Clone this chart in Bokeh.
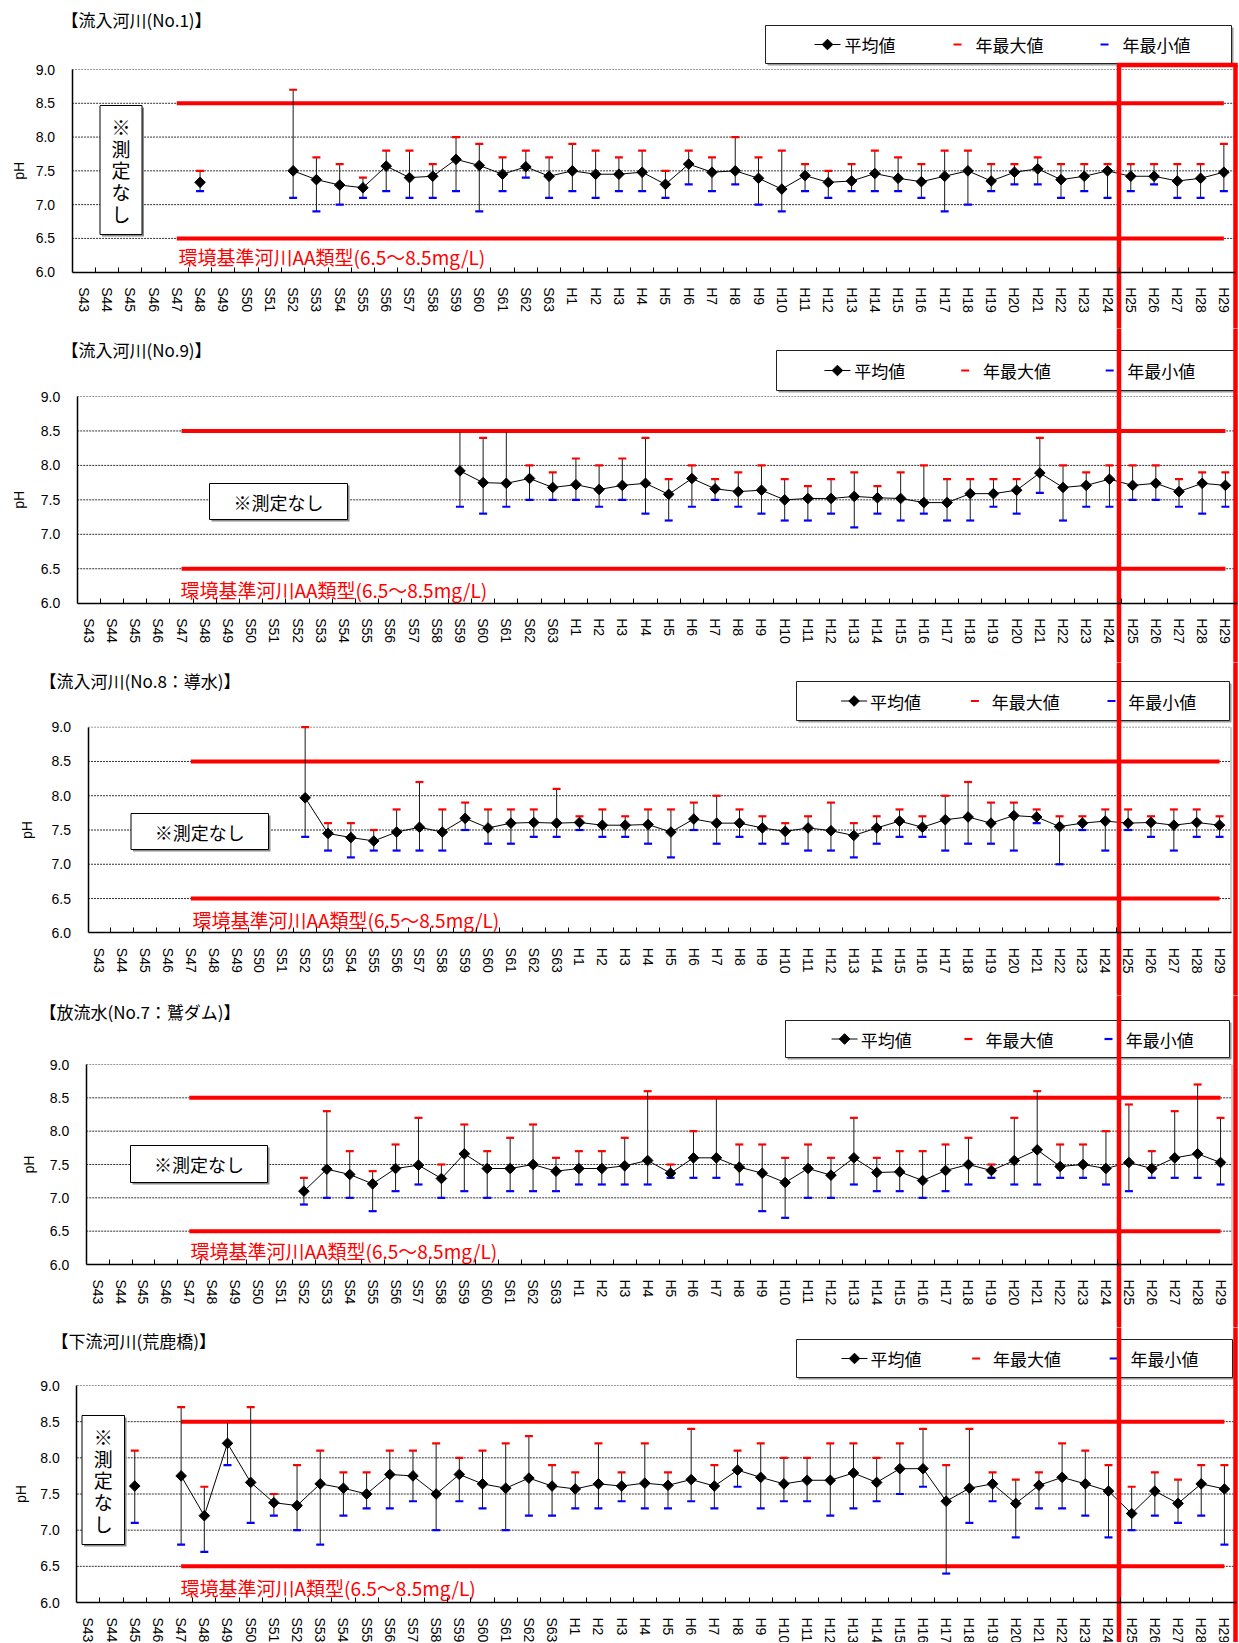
import math
from bokeh.plotting import figure
from bokeh.layouts import column
from bokeh.models import Range1d, FixedTicker, LinearAxis, PrintfTickFormatter
from bokeh.core.properties import value
from bokeh.embed import file_html
from bokeh.resources import INLINE

N = float("nan")

# ---------------- categories / tick labels ----------------
CATS = ["S43", "S44", "S45", "S46", "S47", "S48", "S49", "S50", "S51", "S52",
        "S53", "S54", "S55", "S56", "S57", "S58", "S59", "S60", "S61", "S62", "S63",
        "H1", "H2", "H3", "H4", "H5", "H6", "H7", "H8", "H9", "H10",
        "H11", "H12", "H13", "H14", "H15", "H16", "H17", "H18", "H19", "H20",
        "H21", "H22", "H23", "H24", "H25", "H26", "H27", "H28", "H29"]
Y_TICKS = [6.0, 6.5, 7.0, 7.5, 8.0, 8.5, 9.0]
STD_LOW = 6.5
STD_HIGH = 8.5
STD_START = "S47"
LEGEND_LABELS = ["平均値", "年最大値", "年最小値"]

# ---------------- 流入河川(No.1) ----------------
NO1_MEAN = [N, N, N, N, N, 7.33, N, N, N, 7.50, 7.37, 7.29, 7.25, 7.57, 7.40, 7.42, 7.67, 7.58, 7.45, 7.56, 7.42,
            7.50, 7.45, 7.45, 7.48, 7.30, 7.60, 7.48, 7.50, 7.39, 7.23,
            7.43, 7.33, 7.35, 7.46, 7.39, 7.34, 7.42, 7.50, 7.35, 7.48,
            7.53, 7.37, 7.42, 7.50, 7.42, 7.42, 7.35, 7.39, 7.48]
NO1_MAX = [N, N, N, N, N, 7.5, N, N, N, 8.7, 7.7, 7.6, 7.4, 7.8, 7.8, 7.6, 8.0, 7.9, 7.7, 7.8, 7.7,
           7.9, 7.8, 7.7, 7.8, 7.5, 7.8, 7.7, 8.0, 7.7, 7.8,
           7.6, 7.5, 7.6, 7.8, 7.7, 7.6, 7.8, 7.8, 7.6, 7.6,
           7.7, 7.6, 7.6, 7.6, 7.6, 7.6, 7.6, 7.6, 7.9]
NO1_MIN = [N, N, N, N, N, 7.2, N, N, N, 7.1, 6.9, 7.0, 7.1, 7.2, 7.1, 7.1, 7.2, 6.9, 7.2, 7.4, 7.1,
           7.2, 7.1, 7.2, 7.2, 7.1, 7.3, 7.2, 7.3, 7.0, 6.9,
           7.2, 7.1, 7.2, 7.2, 7.2, 7.1, 6.9, 7.0, 7.2, 7.3,
           7.3, 7.1, 7.2, 7.1, 7.2, 7.3, 7.1, 7.1, 7.2]

# ---------------- 流入河川(No.9) ----------------
NO9_MEAN = [N, N, N, N, N, N, N, N, N, N, N, N, N, N, N, N, 7.92, 7.75, 7.74, 7.81, 7.68,
            7.72, 7.65, 7.71, 7.74, 7.58, 7.81, 7.66, 7.62, 7.64, 7.50,
            7.52, 7.52, 7.55, 7.53, 7.52, 7.46, 7.46, 7.59, 7.59, 7.64,
            7.89, 7.68, 7.71, 7.80, 7.71, 7.74, 7.62, 7.74, 7.71]
NO9_MAX = [N, N, N, N, N, N, N, N, N, N, N, N, N, N, N, N, 8.5, 8.4, 8.5, 8.0, 7.9,
           8.1, 8.0, 8.1, 8.4, 7.8, 8.0, 7.8, 7.9, 8.0, 7.8,
           7.7, 7.8, 7.9, 7.7, 7.9, 8.0, 7.8, 7.8, 7.8, 7.8,
           8.4, 8.0, 7.9, 8.0, 8.0, 8.0, 7.8, 7.9, 7.9]
NO9_MIN = [N, N, N, N, N, N, N, N, N, N, N, N, N, N, N, N, 7.4, 7.3, 7.4, 7.5, 7.5,
           7.5, 7.4, 7.5, 7.3, 7.2, 7.4, 7.5, 7.4, 7.3, 7.2,
           7.2, 7.3, 7.1, 7.3, 7.2, 7.3, 7.2, 7.2, 7.4, 7.3,
           7.6, 7.2, 7.4, 7.4, 7.5, 7.5, 7.4, 7.3, 7.4]

# ---------------- 流入河川(No.8:導水) ----------------
NO8_MEAN = [N, N, N, N, N, N, N, N, N, 7.97, 7.45, 7.39, 7.34, 7.47, 7.54, 7.47, 7.67, 7.53, 7.60, 7.61, 7.60,
            7.61, 7.57, 7.57, 7.58, 7.47, 7.66, 7.60, 7.60, 7.53, 7.48,
            7.53, 7.49, 7.42, 7.53, 7.63, 7.54, 7.65, 7.69, 7.60, 7.71,
            7.69, 7.55, 7.60, 7.63, 7.60, 7.61, 7.57, 7.61, 7.57]
NO8_MAX = [N, N, N, N, N, N, N, N, N, 9.0, 7.6, 7.6, 7.5, 7.8, 8.2, 7.8, 7.9, 7.8, 7.8, 7.8, 8.1,
           7.7, 7.8, 7.7, 7.8, 7.8, 7.9, 8.0, 7.8, 7.7, 7.6,
           7.7, 7.9, 7.6, 7.7, 7.8, 7.7, 8.0, 8.2, 7.9, 7.9,
           7.8, 7.7, 7.7, 7.8, 7.8, 7.7, 7.8, 7.8, 7.7]
NO8_MIN = [N, N, N, N, N, N, N, N, N, 7.4, 7.2, 7.1, 7.2, 7.2, 7.2, 7.2, 7.5, 7.3, 7.3, 7.4, 7.4,
           7.5, 7.4, 7.4, 7.3, 7.1, 7.5, 7.3, 7.4, 7.3, 7.3,
           7.2, 7.2, 7.1, 7.3, 7.4, 7.4, 7.2, 7.3, 7.3, 7.2,
           7.6, 7.0, 7.5, 7.2, 7.5, 7.4, 7.2, 7.4, 7.4]

# ---------------- 放流水(No.7:鷲ダム) ----------------
NO7_MEAN = [N, N, N, N, N, N, N, N, N, 7.10, 7.43, 7.35, 7.21, 7.44, 7.49, 7.29, 7.66, 7.44, 7.44, 7.50, 7.40,
            7.44, 7.44, 7.48, 7.56, 7.37, 7.60, 7.60, 7.46, 7.37, 7.23,
            7.44, 7.34, 7.60, 7.38, 7.39, 7.26, 7.41, 7.50, 7.41, 7.56,
            7.72, 7.47, 7.50, 7.44, 7.53, 7.44, 7.60, 7.66, 7.53]
NO7_MAX = [N, N, N, N, N, N, N, N, N, 7.3, 8.3, 7.7, 7.4, 7.8, 8.2, 7.5, 8.1, 7.7, 7.9, 8.1, 7.6,
           7.7, 7.7, 7.9, 8.6, 7.5, 8.0, 8.5, 7.8, 7.8, 7.6,
           7.8, 7.6, 8.2, 7.6, 7.7, 7.7, 7.8, 7.9, 7.5, 8.2,
           8.6, 7.8, 7.8, 8.0, 8.4, 7.7, 8.3, 8.7, 8.2]
NO7_MIN = [N, N, N, N, N, N, N, N, N, 6.9, 7.0, 7.0, 6.8, 7.1, 7.2, 7.0, 7.1, 7.0, 7.1, 7.1, 7.1,
           7.2, 7.2, 7.2, 7.2, 7.3, 7.3, 7.3, 7.2, 6.8, 6.7,
           7.0, 7.0, 7.2, 7.1, 7.1, 7.0, 7.1, 7.2, 7.3, 7.2,
           7.2, 7.3, 7.3, 7.2, 7.1, 7.3, 7.3, 7.3, 7.2]

# ---------------- 下流河川(荒鹿橋) ----------------
ARA_MEAN = [N, N, 7.61, N, 7.75, 7.20, 8.20, 7.66, 7.38, 7.34, 7.64, 7.58, 7.50, 7.77, 7.75, 7.50, 7.77, 7.64, 7.58, 7.72, 7.61,
            7.57, 7.64, 7.61, 7.65, 7.62, 7.70, 7.61, 7.83, 7.73, 7.64,
            7.69, 7.69, 7.79, 7.66, 7.85, 7.85, 7.40, 7.58, 7.64, 7.37,
            7.62, 7.73, 7.64, 7.54, 7.23, 7.54, 7.37, 7.64, 7.57]
ARA_MAX = [N, N, 8.1, N, 8.7, 7.6, 8.5, 8.7, 7.5, 7.9, 8.1, 7.8, 7.8, 8.1, 8.1, 8.2, 8.0, 8.1, 8.2, 8.3, 7.9,
           7.8, 8.2, 7.8, 8.2, 7.8, 8.4, 7.9, 8.1, 8.2, 8.0,
           8.0, 8.2, 8.2, 8.0, 8.2, 8.4, 7.9, 8.4, 7.8, 7.7,
           7.8, 8.2, 8.1, 7.9, 7.6, 7.8, 7.7, 7.9, 7.9]
ARA_MIN = [N, N, 7.1, N, 6.8, 6.7, 7.9, 7.1, 7.2, 7.0, 6.8, 7.2, 7.3, 7.3, 7.4, 7.0, 7.4, 7.3, 7.0, 7.2, 7.2,
           7.3, 7.3, 7.4, 7.3, 7.3, 7.4, 7.3, 7.6, 7.3, 7.4,
           7.4, 7.2, 7.3, 7.4, 7.5, 7.6, 6.4, 7.1, 7.4, 6.9,
           7.3, 7.3, 7.2, 6.9, 7.0, 7.2, 7.1, 7.2, 6.8]

# ---------------- layout (screen pixels) ----------------
W = 1238
OX = 0
JP = "Noto Sans CJK JP"
NUM = "Liberation Sans"
RED = "#FF0000"
BLUE = "#0000FF"
RECT_X0, RECT_X1, RECT_TOP = 1118.5, 1235.0, 64.5

PANELS = [
    dict(title="【流入河川(No.1)】", std="環境基準河川AA類型(6.5～8.5mg/L)",
         mean=NO1_MEAN, vmax=NO1_MAX, vmin=NO1_MIN,
         top=0, bot=328, axis=71.6, right=1235.0, y9=69.0, y6=271.7,
         tx=61, ty=19, ph=18.5, stdx=178, stdy=255.5,
         leg=(765, 25, 1231, 63), box=(99.5, 105, 141.5, 234), vert=True),
    dict(title="【流入河川(No.9)】", std="環境基準河川AA類型(6.5～8.5mg/L)",
         mean=NO9_MEAN, vmax=NO9_MAX, vmin=NO9_MIN,
         top=328, bot=662, axis=76.7, right=1236.5, y9=396.0, y6=602.7,
         tx=61, ty=349, ph=18.5, stdx=180, stdy=588.5,
         leg=(776, 350, 1234, 390), box=(209, 483, 347, 519), vert=False),
    dict(title="【流入河川(No.8：導水)】", std="環境基準河川AA類型(6.5～8.5mg/L)",
         mean=NO8_MEAN, vmax=NO8_MAX, vmin=NO8_MIN,
         top=662, bot=995, axis=87.5, right=1230.5, y9=726.7, y6=932.3,
         tx=39, ty=680, ph=26.5, stdx=192, stdy=918.5,
         leg=(796, 681, 1229, 720), box=(130.5, 813, 268, 849), vert=False),
    dict(title="【放流水(No.7：鷲ダム)】", std="環境基準河川AA類型(6.5～8.5mg/L)",
         mean=NO7_MEAN, vmax=NO7_MAX, vmin=NO7_MIN,
         top=995, bot=1327, axis=85.7, right=1231.5, y9=1064.0, y6=1264.0,
         tx=39, ty=1010.5, ph=28.5, stdx=190, stdy=1250,
         leg=(785, 1020, 1229, 1057), box=(130, 1145, 267, 1182), vert=False),
    dict(title="【下流河川(荒鹿橋)】", std="環境基準河川A類型(6.5～8.5mg/L)",
         mean=ARA_MEAN, vmax=ARA_MAX, vmin=ARA_MIN,
         top=1327, bot=1642, axis=76.3, right=1235.5, y9=1385.0, y6=1602.0,
         tx=51, ty=1340, ph=20.5, stdx=180, stdy=1586.5,
         leg=(796, 1339, 1232, 1377), box=(81.5, 1415, 124, 1544), vert=True),
]


def make_panel(cfg):
    axis, right = cfg["axis"], cfg["right"]
    sp = (right - axis) / len(CATS)
    c0 = axis + sp / 2.0
    y9, y6 = cfg["y9"], cfg["y6"]
    ppu = (y6 - y9) / 3.0

    def X(px):
        return (px - c0) / sp

    def Y(py):
        return 9.0 - (py - y9) / ppu

    top, bot = cfg["top"], cfg["bot"]
    p = figure(width=W, height=bot - top,
               x_range=Range1d(X(OX), X(OX + W)),
               y_range=Range1d(Y(bot), Y(top)),
               output_backend="svg", toolbar_location=None,
               x_axis_type=None, y_axis_type=None, title=None, min_border=0)
    p.outline_line_color = None
    p.background_fill_color = "white"
    p.border_fill_color = "white"

    xs = list(range(len(CATS)))
    xl, xr = -0.5, len(CATS) - 0.5

    # grid lines (dotted)
    inner = [t for t in Y_TICKS if 6.0 < t < 9.0]
    p.segment(x0=[xl] * len(inner), x1=[xr] * len(inner), y0=inner, y1=inner,
              line_color="#333333", line_width=1, line_dash="2 1")
    p.segment(x0=[xl], x1=[xr], y0=[9.0], y1=[9.0], line_color="#999999",
              line_width=1, line_dash="2 1")
    p.segment(x0=[xr], x1=[xr], y0=[6.0], y1=[9.0], line_color="#999999", line_width=1)

    # axes placed at fixed data locations
    xaxis = LinearAxis(fixed_location=6.0,
                       ticker=FixedTicker(ticks=xs, minor_ticks=[k + 0.5 for k in xs[:-1]]),
                       bounds=(xl, xr))
    xaxis.major_label_overrides = {i: c for i, c in enumerate(CATS)}
    xaxis.major_label_orientation = "vertical"
    xaxis.major_tick_line_color = None
    xaxis.minor_tick_in = 5
    xaxis.minor_tick_out = 0
    xaxis.minor_tick_line_color = "black"
    xaxis.axis_line_color = "black"
    xaxis.axis_line_width = 1.5
    xaxis.major_label_standoff = 9
    xaxis.major_label_text_font = NUM
    xaxis.major_label_text_font_size = "14px"
    xaxis.major_label_text_color = "black"
    p.add_layout(xaxis, "below")

    yaxis = LinearAxis(fixed_location=xl, ticker=FixedTicker(ticks=Y_TICKS),
                       formatter=PrintfTickFormatter(format="%.1f"), bounds=(6.0, 9.0))
    yaxis.major_tick_line_color = None
    yaxis.minor_tick_line_color = None
    yaxis.major_tick_out = 0
    yaxis.axis_line_color = "black"
    yaxis.axis_line_width = 1.5
    yaxis.major_label_standoff = 17
    yaxis.major_label_text_font = NUM
    yaxis.major_label_text_font_size = "14px"
    yaxis.major_label_text_color = "black"
    p.add_layout(yaxis, "left")

    # environmental standard lines
    i0 = CATS.index(STD_START)
    p.segment(x0=[i0, i0], x1=[xs[-1], xs[-1]], y0=[STD_LOW, STD_HIGH], y1=[STD_LOW, STD_HIGH],
              line_color=RED, line_width=4)
    p.text(x=[X(cfg["stdx"])], y=[Y(cfg["stdy"])], text=[cfg["std"]], text_color=RED,
           text_font=value(JP), text_font_size=value("19px"),
           text_align="left", text_baseline="middle")

    # range bars
    mean, vmax, vmin = cfg["mean"], cfg["vmax"], cfg["vmin"]
    bx = [x for x, a, b in zip(xs, vmin, vmax) if a == a and b == b]
    b0 = [a for a, b in zip(vmin, vmax) if a == a and b == b]
    b1 = [b for a, b in zip(vmin, vmax) if a == a and b == b]
    p.segment(x0=bx, x1=bx, y0=b0, y1=b1, line_color="#1a1a1a", line_width=1)
    p.scatter(xs, vmax, marker="dash", size=8, line_color=RED, line_width=2.2)
    p.scatter(xs, vmin, marker="dash", size=8, line_color=BLUE, line_width=2.2)
    p.line(xs, mean, line_color="black", line_width=1)
    p.scatter(xs, mean, marker="square", angle=math.pi / 4, size=7.5,
              fill_color="black", line_color="black")

    # title and axis label
    p.text(x=[X(cfg["tx"])], y=[Y(cfg["ty"])], text=[cfg["title"]], text_color="black",
           text_font=value(JP), text_font_size=value("17px"),
           text_align="left", text_baseline="middle")
    p.text(x=[X(cfg["ph"])], y=[Y((y9 + y6) / 2.0)], text=["pH"], angle=math.pi / 2,
           text_color="black", text_font=value(NUM), text_font_size=value("14px"),
           text_align="center", text_baseline="middle")

    # "no measurement" box
    bx0, by0, bx1, by1 = cfg["box"]
    p.quad(left=[X(bx0 + 2)], right=[X(bx1 + 2)], top=[Y(by0 + 2)], bottom=[Y(by1 + 2)],
           fill_color="#8c8c8c", line_color=None)
    p.quad(left=[X(bx0)], right=[X(bx1)], top=[Y(by0)], bottom=[Y(by1)],
           fill_color="white", line_color="black", line_width=1)
    if cfg["vert"]:
        p.text(x=[X((bx0 + bx1) / 2)], y=[Y((by0 + by1) / 2)], text=["※\n測\n定\nな\nし"],
               text_font=value(JP), text_font_size=value("19px"), text_line_height=0.81,
               text_align="center", text_baseline="middle", text_color="black")
    else:
        p.text(x=[X((bx0 + bx1) / 2)], y=[Y((by0 + by1) / 2)], text=["※測定なし"],
               text_font=value(JP), text_font_size=value("18px"),
               text_align="center", text_baseline="middle", text_color="black")

    # legend box
    lx0, ly0, lx1, ly1 = cfg["leg"]
    f = (lx1 - lx0) / 466.0
    lc = Y((ly0 + ly1) / 2.0)
    p.quad(left=[X(lx0 + 2)], right=[X(lx1 + 2)], top=[Y(ly0 + 2)], bottom=[Y(ly1 + 2)],
           fill_color="#9a9a9a", line_color=None)
    p.quad(left=[X(lx0)], right=[X(lx1)], top=[Y(ly0)], bottom=[Y(ly1)],
           fill_color="white", line_color="#222222", line_width=1)
    gx = lx0 + 62 * f
    p.segment(x0=[X(gx - 13)], x1=[X(gx + 13)], y0=[lc], y1=[lc], line_color="black", line_width=1)
    p.scatter([X(gx)], [lc], marker="square", angle=math.pi / 4, size=7.5,
              fill_color="black", line_color="black")
    p.scatter([X(lx0 + 192 * f)], [lc], marker="dash", size=8, line_color=RED, line_width=2.2)
    p.scatter([X(lx0 + 339 * f)], [lc], marker="dash", size=8, line_color=BLUE, line_width=2.2)
    p.text(x=[X(lx0 + 79 * f), X(lx0 + 210 * f), X(lx0 + 357 * f)], y=[lc, lc, lc],
           text=LEGEND_LABELS, text_font=value(JP), text_font_size=value("17px"),
           text_align="left", text_baseline="middle", text_color="black")

    # red highlight rectangle (H25-H29)
    ytop = Y(RECT_TOP) if top < RECT_TOP else Y(top - 5)
    ybot = Y(bot + 5)
    p.segment(x0=[X(RECT_X0), X(RECT_X1)], x1=[X(RECT_X0), X(RECT_X1)],
              y0=[ytop, ytop], y1=[ybot, ybot], line_color=RED, line_width=4.5)
    if top < RECT_TOP:
        p.segment(x0=[X(RECT_X0 - 2.2)], x1=[X(RECT_X1 + 2.2)], y0=[ytop], y1=[ytop],
                  line_color=RED, line_width=4.5)
    return p


figs = [make_panel(c) for c in PANELS]
layout = column(*figs, spacing=0)

open("out.html", "w").write(file_html(layout, INLINE))
